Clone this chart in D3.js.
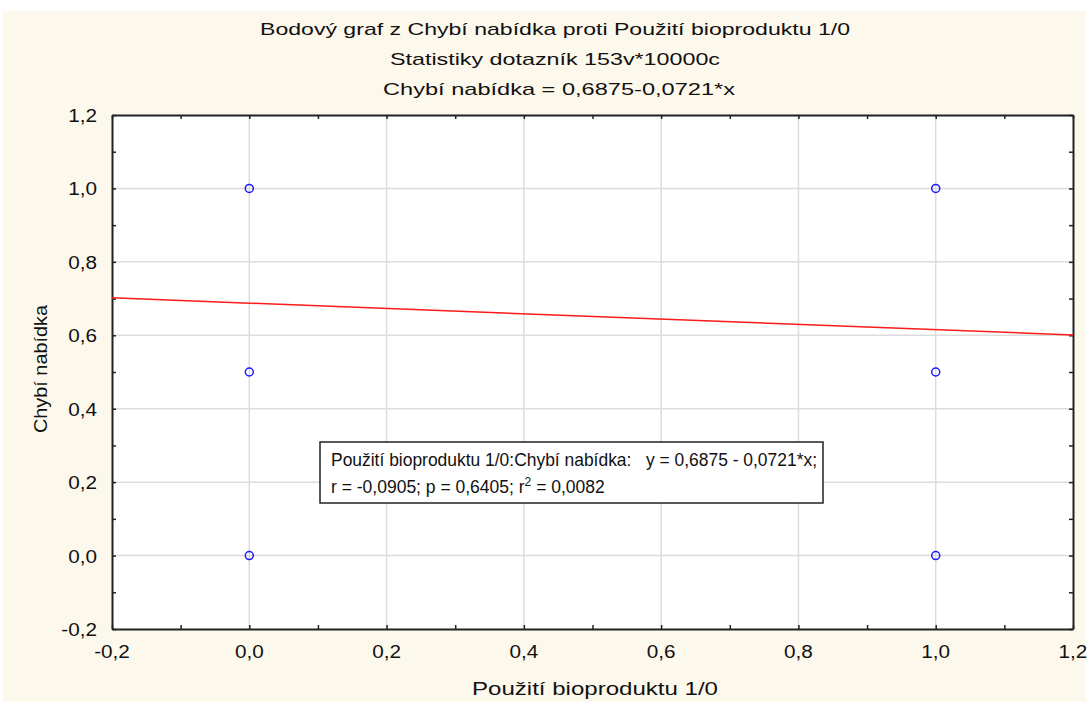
<!DOCTYPE html>
<html>
<head>
<meta charset="utf-8">
<script src="https://cdn.jsdelivr.net/npm/d3@7"></script>
<style>
  body { margin: 0; background: #fff; }
  text { font-family: "Liberation Sans", Arial, sans-serif; fill: #111; }
</style>
</head>
<body>
<div id="chart"></div>
<script>
// data
var xVals = [0, 0, 0, 1, 1, 1];
var yVals = [0, 0.5, 1, 0, 0.5, 1];
var fitA = 0.6875, fitB = -0.0721;
var tickVals = [-0.2, 0, 0.2, 0.4, 0.6, 0.8, 1.0, 1.2];
var minorVals = [-0.1, 0.1, 0.3, 0.5, 0.7, 0.9, 1.1];
var titles = ["Bodový graf z Chybí nabídka proti Použití bioproduktu 1/0",
  "Statistiky dotazník 153v*10000c",
  "Chybí nabídka = 0,6875-0,0721*x"];
var titleWidths = [590, 330, 352];
var legendLine1 = "Použití bioproduktu 1/0:Chybí nabídka:   y = 0,6875 - 0,0721*x;";

var W = 1088, H = 702;
var margin = {top: 115, right: 15, bottom: 73, left: 112};
var width = W - margin.left - margin.right,
  height = H - margin.top - margin.bottom;

var svg = d3.select('#chart').append('svg')
  .attr('width', W)
  .attr('height', H);

// the source picture is stretched sideways, so stretch text to match
function stretchTo(sel, w) {
  sel.attr('textLength', w).attr('lengthAdjust', 'spacingAndGlyphs');
}
function stretchBy(sel, k) {
  sel.each(function() {
    var w = this.getComputedTextLength();
    d3.select(this).attr('textLength', w * k).attr('lengthAdjust', 'spacingAndGlyphs');
  });
}

// cream panel
svg.append('rect')
  .attr('x', 3).attr('y', 11)
  .attr('width', W - 5).attr('height', H - 11)
  .attr('fill', '#fdf8ec');

var fmt = function(d) { return d3.format('.1f')(d).replace('.', ',').replace('\u2212', '-'); };

// titles
svg.selectAll('.title')
  .data(titles)
  .enter().append('text')
  .attr('class', 'title')
  .attr('x', function(d, i) { return i == 2 ? 559 : 555; })
  .attr('y', function(d, i) { return 35 + i * 30; })
  .attr('text-anchor', 'middle')
  .style('font-size', '17px')
  .text(function(d) { return d; })
  .attr('textLength', function(d, i) { return titleWidths[i]; })
  .attr('lengthAdjust', 'spacingAndGlyphs');

var x = d3.scaleLinear().domain([-0.2, 1.2]).range([0, width]);
var y = d3.scaleLinear().domain([-0.2, 1.2]).range([height, 0]);

var g = svg.append('g')
  .attr('transform', 'translate(' + margin.left + ',' + margin.top + ')');

g.append('rect')
  .attr('width', width).attr('height', height)
  .attr('fill', '#fff');

// grid
g.selectAll('.gx')
  .data(tickVals.slice(1, -1))
  .enter().append('line')
  .attr('x1', function(d) { return x(d); })
  .attr('x2', function(d) { return x(d); })
  .attr('y1', 0).attr('y2', height)
  .attr('stroke', '#dcdcdc').attr('stroke-width', 1.5);

g.selectAll('.gy')
  .data(tickVals.slice(1, -1))
  .enter().append('line')
  .attr('y1', function(d) { return y(d); })
  .attr('y2', function(d) { return y(d); })
  .attr('x1', 0).attr('x2', width)
  .attr('stroke', '#dcdcdc').attr('stroke-width', 1.5);

// axes with inward ticks
function ax(axis, tr) {
  var a = g.append('g').attr('transform', tr).call(axis);
  a.select('.domain').attr('stroke', '#222').attr('stroke-width', 2);
  a.selectAll('.tick line').attr('stroke', '#222').attr('stroke-width', 1.5);
  a.selectAll('text').remove();
  return a;
}
var allTicks = tickVals.concat(minorVals);
ax(d3.axisBottom(x).tickValues(allTicks).tickSizeInner(-4).tickSizeOuter(0), 'translate(0,' + height + ')');
ax(d3.axisTop(x).tickValues(allTicks).tickSizeInner(-4).tickSizeOuter(0), 'translate(0,0)');
ax(d3.axisLeft(y).tickValues(allTicks).tickSizeInner(-4).tickSizeOuter(0), 'translate(0,0)');
ax(d3.axisRight(y).tickValues(allTicks).tickSizeInner(-4).tickSizeOuter(0), 'translate(' + width + ',0)');

// tick labels
var xl = g.selectAll('.xl')
  .data(tickVals)
  .enter().append('text')
  .attr('x', function(d) { return x(d); })
  .attr('y', height + 29)
  .attr('text-anchor', 'middle')
  .style('font-size', '18px')
  .text(fmt);
stretchBy(xl, 1.15);

var yl = g.selectAll('.yl')
  .data(tickVals)
  .enter().append('text')
  .attr('x', -15)
  .attr('y', function(d) { return y(d) + 7; })
  .attr('text-anchor', 'end')
  .style('font-size', '18px')
  .text(fmt);
stretchBy(yl, 1.15);

// axis titles
svg.append('text')
  .attr('x', 595).attr('y', 695)
  .attr('text-anchor', 'middle')
  .style('font-size', '18px')
  .text('Použití bioproduktu 1/0')
  .call(stretchTo, 246);

svg.append('text')
  .attr('transform', 'translate(47,369) rotate(-90)')
  .attr('text-anchor', 'middle')
  .style('font-size', '18px')
  .text('Chybí nabídka')
  .call(stretchTo, 128);

// regression line
var line = d3.line()
  .x(function(d) { return x(d); })
  .y(function(d) { return y(fitA + fitB * d); });
g.append('path')
  .datum([-0.2, 1.2])
  .attr('d', line)
  .attr('fill', 'none')
  .attr('stroke', '#ff1a1a')
  .attr('stroke-width', 1.5);

// points
g.selectAll('.pt')
  .data(xVals.map(function(v, i) { return {x: v, y: yVals[i]}; }))
  .enter().append('circle')
  .attr('cx', function(d) { return x(d.x); })
  .attr('cy', function(d) { return y(d.y); })
  .attr('r', 4)
  .attr('fill', 'none')
  .attr('stroke', '#1a1aff')
  .attr('stroke-width', 1.5);

// legend box
var lg = svg.append('g').attr('transform', 'translate(320,442)');
lg.append('rect')
  .attr('width', 503).attr('height', 61)
  .attr('fill', '#fff')
  .attr('stroke', '#222').attr('stroke-width', 1.5);
lg.append('text')
  .attr('x', 11).attr('y', 24)
  .style('font-size', '18.5px')
  .style('white-space', 'pre')
  .text(legendLine1)
  .call(stretchTo, 486);
var t2 = lg.append('text')
  .attr('x', 11).attr('y', 51)
  .style('font-size', '17.5px');
t2.append('tspan').text('r = -0,0905; p = 0,6405; r');
t2.append('tspan').attr('dy', -7).style('font-size', '12px').text('2');
t2.append('tspan').attr('dy', 7).text(' = 0,0082');
</script>
</body>
</html>
